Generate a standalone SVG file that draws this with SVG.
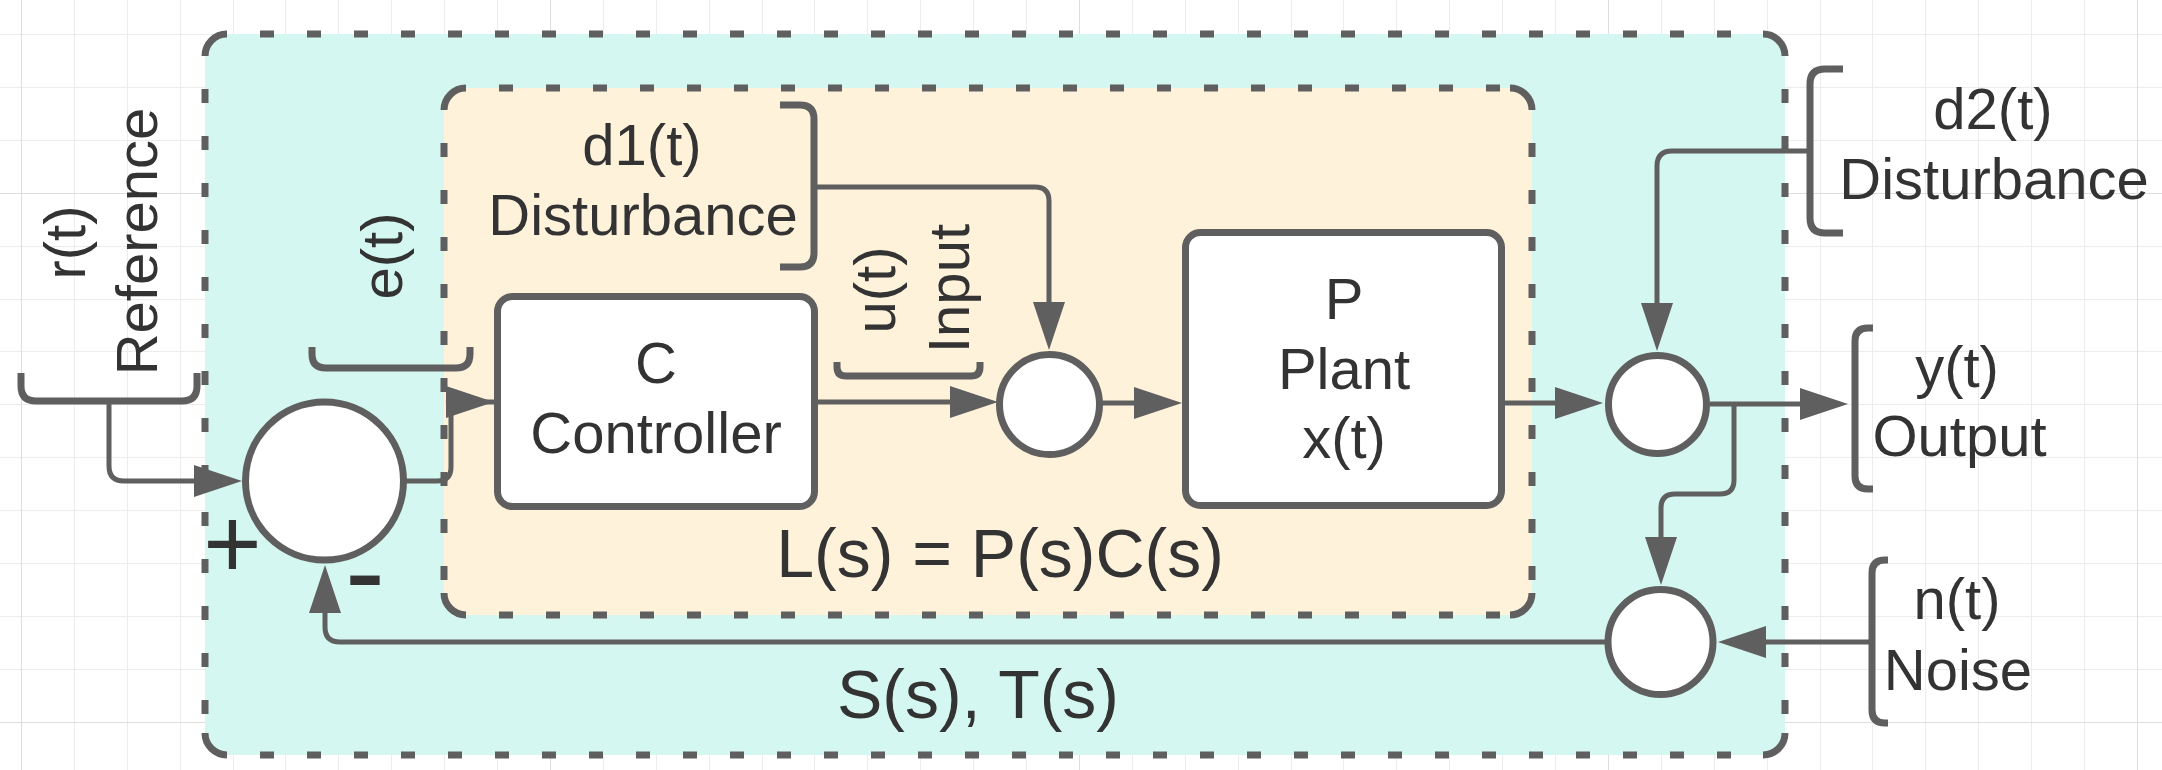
<svg xmlns="http://www.w3.org/2000/svg" width="2162" height="770" viewBox="0 0 2162 770">
<defs>
<style>
.grid{stroke:#ececec;stroke-width:1;fill:none}
.gridm{stroke:#dddddd;stroke-width:1;fill:none}
.edge{fill:none;stroke:#5f5f5f;stroke-width:7;stroke-dasharray:14 33;stroke-dashoffset:14}
.corner{fill:none;stroke:#5f5f5f;stroke-width:7}
.box{fill:#ffffff;stroke:#5f5f5f;stroke-width:7}
.br{fill:none;stroke:#5f5f5f;stroke-width:7}
.conn{fill:none;stroke:#5f5f5f;stroke-width:5}
.arrow{marker-end:url(#arr)}
.t{font-family:"Liberation Sans",Arial,sans-serif;font-size:58px;fill:#333333;text-anchor:middle}
.big{font-size:68px}
</style>
<marker id="arr" markerUnits="userSpaceOnUse" markerWidth="48" markerHeight="32" refX="0" refY="16" orient="auto" viewBox="0 0 48 32"><path d="M0,0 L48,16 L0,32 Z" fill="#5f5f5f"/></marker>
</defs>
<rect width="2162" height="770" fill="#ffffff"/>
<g id="grid">
<path class="grid" d="M74.5,0V770M127.5,0V770M180.5,0V770M233.5,0V770M285.5,0V770M338.5,0V770M391.5,0V770M444.5,0V770M497.5,0V770M603.5,0V770M656.5,0V770M709.5,0V770M762.5,0V770M814.5,0V770M867.5,0V770M920.5,0V770M973.5,0V770M1026.5,0V770M1132.5,0V770M1185.5,0V770M1238.5,0V770M1291.5,0V770M1343.5,0V770M1396.5,0V770M1449.5,0V770M1502.5,0V770M1555.5,0V770M1661.5,0V770M1714.5,0V770M1767.5,0V770M1820.5,0V770M1872.5,0V770M1925.5,0V770M1978.5,0V770M2031.5,0V770M2084.5,0V770M0,34.5H2162M0,87.5H2162M0,140.5H2162M0,246.5H2162M0,299.5H2162M0,351.5H2162M0,404.5H2162M0,457.5H2162M0,510.5H2162M0,563.5H2162M0,616.5H2162M0,669.5H2162"/>
<path class="gridm" d="M21.5,0V770M550.5,0V770M1079.5,0V770M1608.5,0V770M2137.5,0V770M0,193.5H2162M0,722.5H2162"/>
</g>
<g id="outer-loop">
<rect x="205" y="34" width="1580" height="721" rx="22" fill="#d5f7f1"/>
<path class="edge" d="M227,34H1763M227,755H1763M205,56V733M1785,56V733"/>
<path class="corner" d="M205,56A22,22 0 0 1 227,34M1763,34A22,22 0 0 1 1785,56M1785,733A22,22 0 0 1 1763,755M227,755A22,22 0 0 1 205,733"/>
<text class="t big" x="978" y="718">S(s), T(s)</text>
</g>
<g id="open-loop">
<rect x="444" y="88" width="1088" height="527" rx="22" fill="#fff2da"/>
<path class="edge" d="M466,88H1510M466,615H1510M444,110V593M1532,110V593"/>
<path class="corner" d="M444,110A22,22 0 0 1 466,88M1510,88A22,22 0 0 1 1532,110M1532,593A22,22 0 0 1 1510,615M466,615A22,22 0 0 1 444,593"/>
<text class="t big" x="1000" y="577">L(s) = P(s)C(s)</text>
</g>
<g id="connectors">
<path class="conn arrow" d="M109,401V466Q109,481 124,481H194"/>
<path class="conn" d="M404,481H437Q451,481 451,467V416Q451,402 465,402H494"/>
<path class="conn arrow" d="M445.9,402H446"/>
<path class="conn arrow" d="M818,402H950"/>
<path class="conn arrow" d="M1102,403H1134"/>
<path class="conn arrow" d="M815,187H1035Q1049,187 1049,201V302"/>
<path class="conn arrow" d="M1505,403H1555"/>
<path class="conn arrow" d="M1810,151H1672Q1657,151 1657,166V303"/>
<path class="conn arrow" d="M1710,404H1800"/>
<path class="conn arrow" d="M1734,404V480Q1734,494 1720,494H1675Q1661,494 1661,508V537"/>
<path class="conn arrow" d="M1872,642H1766"/>
<path class="conn arrow" d="M1605,642H340Q325,642 325,627V613"/>
</g>
<g id="reference">
<path class="br" d="M21,373V386Q21,401 36,401H182Q197,401 197,386V373"/>
<text class="t" transform="translate(85,242.5) rotate(-90)">r(t)</text>
<text class="t" transform="translate(156.5,241.5) rotate(-90)">Reference</text>
</g>
<g id="error">
<path class="br" d="M312,347V354Q312,368 326,368H456Q470,368 470,354V347"/>
<text class="t" transform="translate(402,256) rotate(-90)">e(t)</text>
</g>
<g id="sum-main">
<circle class="box" cx="324.5" cy="481" r="79"/>
<text x="232.5" y="577.5" style="font-family:'Liberation Sans',Arial,sans-serif;font-size:100px;fill:#333333;text-anchor:middle">+</text>
<text x="365" y="612" style="font-family:'Liberation Sans',Arial,sans-serif;font-size:120px;fill:#333333;text-anchor:middle">-</text>
</g>
<g id="disturbance1">
<path class="br" d="M780,105H800Q814,105 814,119V253Q814,267 800,267H780"/>
<text class="t" x="642" y="165">d1(t)</text>
<text class="t" x="643" y="234.5">Disturbance</text>
</g>
<g id="controller">
<rect class="box" x="497.5" y="296.5" width="317" height="210" rx="15"/>
<text class="t" x="656" y="383">C</text>
<text class="t" x="656" y="453">Controller</text>
</g>
<g id="input">
<path class="br" d="M837,362V367Q837,376 846,376H971Q980,376 980,367V362"/>
<text class="t" transform="translate(895,290) rotate(-90)">u(t)</text>
<text class="t" transform="translate(968.5,288.5) rotate(-90)">Input</text>
</g>
<g id="sum-d1">
<circle class="box" cx="1049.5" cy="404.5" r="50"/>
</g>
<g id="plant">
<rect class="box" x="1185.5" y="232.5" width="316" height="273" rx="15"/>
<text class="t" x="1344" y="319">P</text>
<text class="t" x="1344" y="389">Plant</text>
<text class="t" x="1344" y="458">x(t)</text>
</g>
<g id="sum-d2">
<circle class="box" cx="1657.5" cy="404.5" r="49"/>
</g>
<g id="sum-noise">
<circle class="box" cx="1660.5" cy="642" r="52.5"/>
</g>
<g id="disturbance2">
<path class="br" d="M1843,69H1825Q1810,69 1810,84V218Q1810,233 1825,233H1843"/>
<text class="t" x="1993" y="129">d2(t)</text>
<text class="t" x="1994" y="198.5">Disturbance</text>
</g>
<g id="output">
<path class="br" d="M1873,328H1868Q1855,328 1855,341V476Q1855,489 1868,489H1873"/>
<text class="t" x="1957" y="387">y(t)</text>
<text class="t" x="1959.5" y="456">Output</text>
</g>
<g id="noise">
<path class="br" d="M1888,560H1885Q1872,560 1872,573V710Q1872,723 1885,723H1888"/>
<text class="t" x="1957" y="619">n(t)</text>
<text class="t" x="1958" y="690">Noise</text>
</g>
</svg>
